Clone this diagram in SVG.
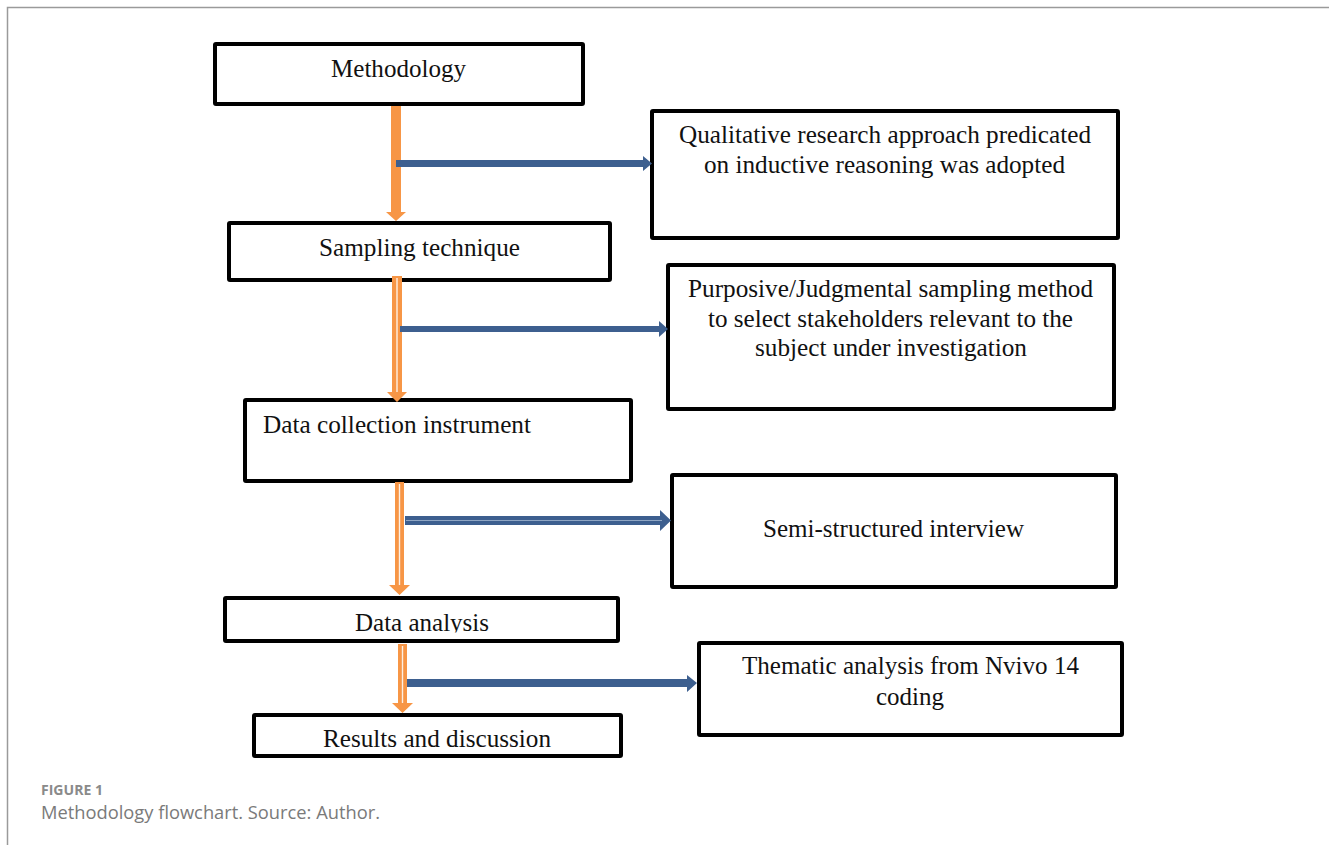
<svg xmlns="http://www.w3.org/2000/svg" width="1329" height="845" viewBox="0 0 1329 845">
<style>
.box{fill:#fff;stroke:#000;stroke-width:4;}
.t{font-family:"Liberation Serif","Times New Roman",serif;font-size:25px;fill:#111;}
.or{fill:#F79646;}
.bl{fill:#3D5F8F;}
.wl{stroke:#fff;stroke-width:1.4;opacity:0.85;}
.frame{fill:none;stroke:#9a9a9a;stroke-width:1.5;}
.cap1{font-family:"Open Sans","Noto Sans",sans-serif;font-size:14px;font-weight:bold;fill:#8a8a8a;}
.cap2{font-family:"Open Sans","Noto Sans",sans-serif;font-size:17.5px;fill:#7a7a7a;}
</style>
<defs>
<clipPath id="clipDA"><rect x="300" y="600" width="250" height="32.5"/></clipPath>
</defs>
<path class="frame" d="M7.5,845 L7.5,7.5 L1329,7.5"/>

<g id="n-methodology">
<rect class="box" x="215" y="44" width="368" height="60" rx="1"/>
<text class="t" x="331" y="77" textLength="135" lengthAdjust="spacingAndGlyphs">Methodology</text>
</g>
<g id="n-qualitative">
<rect class="box" x="652" y="111" width="466" height="127" rx="1"/>
<text class="t" x="679" y="143" textLength="412" lengthAdjust="spacingAndGlyphs">Qualitative research approach predicated</text>
<text class="t" x="704" y="173" textLength="361" lengthAdjust="spacingAndGlyphs">on inductive reasoning was adopted</text>
</g>
<g id="n-sampling">
<rect class="box" x="229" y="223" width="381" height="57" rx="1"/>
<text class="t" x="319" y="256" textLength="201" lengthAdjust="spacingAndGlyphs">Sampling technique</text>
</g>
<g id="n-purposive">
<rect class="box" x="668" y="265" width="446" height="144" rx="1"/>
<text class="t" x="688" y="297" textLength="405" lengthAdjust="spacingAndGlyphs">Purposive/Judgmental sampling method</text>
<text class="t" x="708" y="327" textLength="365" lengthAdjust="spacingAndGlyphs">to select stakeholders relevant to the</text>
<text class="t" x="755" y="356" textLength="272" lengthAdjust="spacingAndGlyphs">subject under investigation</text>
</g>
<g id="n-datacollection">
<rect class="box" x="245" y="400" width="386" height="81" rx="1"/>
<text class="t" x="263" y="433" textLength="268" lengthAdjust="spacingAndGlyphs">Data collection instrument</text>
</g>
<g id="n-semistructured">
<rect class="box" x="672" y="475" width="444" height="112" rx="1"/>
<text class="t" x="763" y="537" textLength="261" lengthAdjust="spacingAndGlyphs">Semi-structured interview</text>
</g>
<g id="n-dataanalysis">
<rect class="box" x="225" y="598" width="393" height="43" rx="1"/>
<text class="t" x="355" y="631" textLength="134" lengthAdjust="spacingAndGlyphs" clip-path="url(#clipDA)">Data analysis</text>
</g>
<g id="n-thematic">
<rect class="box" x="699" y="643" width="423" height="92" rx="1"/>
<text class="t" x="742" y="674" textLength="337" lengthAdjust="spacingAndGlyphs">Thematic analysis from Nvivo 14</text>
<text class="t" x="876" y="705" textLength="68" lengthAdjust="spacingAndGlyphs">coding</text>
</g>
<g id="n-results">
<rect class="box" x="254" y="715" width="367" height="41" rx="1"/>
<text class="t" x="323" y="747" textLength="228" lengthAdjust="spacingAndGlyphs">Results and discussion</text>
</g>

<g id="connectors">
<polygon class="or" points="391,106 401,106 401,212 406,212 396,221 386,212 391,212"/>
<polygon class="or" points="392,276 402,276 402,392 407,392 397,402 387,392 392,392"/>
<line class="wl" x1="397" y1="278" x2="397" y2="392"/>
<polygon class="or" points="395,482 404,482 404,585 410,585 399.5,595 389,585 395,585"/>
<line class="wl" x1="399.5" y1="484" x2="399.5" y2="585"/>
<polygon class="or" points="398,644 407,644 407,703 413,703 402.5,713 392,703 398,703"/>
<line class="wl" x1="402.5" y1="646" x2="402.5" y2="703"/>
<polygon class="bl" points="396,160 643,160 643,156 652,163.5 643,171 643,167 396,167"/>
<polygon class="bl" points="400,326 659,326 659,321 668,329 659,337 659,332 400,332"/>
<polygon class="bl" points="405,516 660,516 660,510 671,520.5 660,531 660,525 405,525"/>
<line x1="406" y1="520.5" x2="662" y2="520.5" stroke="#8fa6c4" stroke-width="1"/>
<polygon class="bl" points="407,679 687,679 687,675 697,683 687,692 687,687 407,687"/>
</g>

<g id="caption">
<text class="cap1" x="41" y="795" textLength="62" lengthAdjust="spacingAndGlyphs">FIGURE 1</text>
<text class="cap2" x="41" y="819" textLength="339" lengthAdjust="spacingAndGlyphs">Methodology flowchart. Source: Author.</text>
</g>
</svg>
